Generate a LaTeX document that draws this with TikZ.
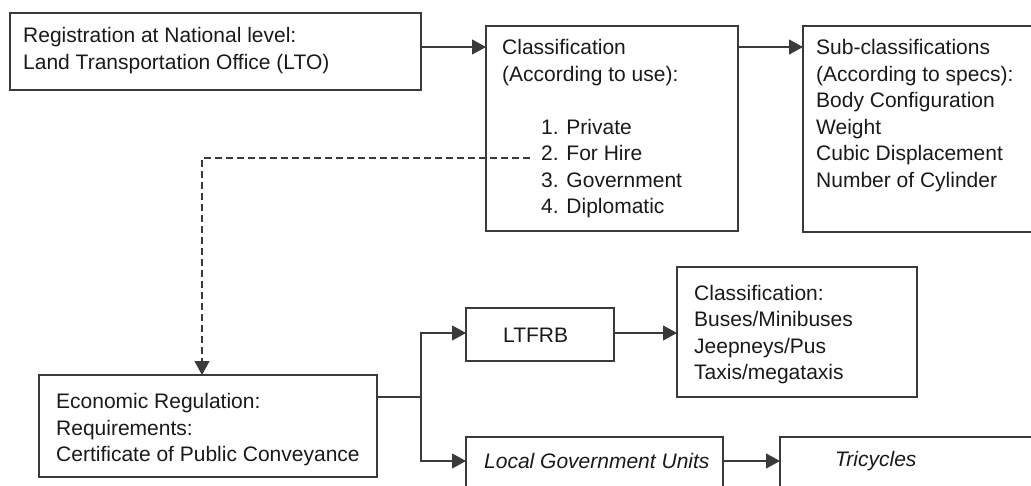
\documentclass[tikz,border=0pt]{standalone}
\usepackage{fontspec}
\setmainfont{Liberation Sans}
\usetikzlibrary{arrows.meta}
\definecolor{linecol}{HTML}{3A3A3A}
\definecolor{textcol}{HTML}{1A1A1A}
\begin{document}
\begin{tikzpicture}[x=1pt,y=-1pt,
  box/.style={draw=linecol, line width=1.1pt, rectangle, inner sep=0pt, outer sep=0pt},
  txt/.style={font=\fontsize{21}{26.5}\selectfont, align=left, inner sep=0pt, text=textcol},
  conn/.style={draw=linecol, line width=1.1pt},
  arr/.style={conn, -{Triangle[length=14pt,width=15pt]}},
  dasharr/.style={arr, dash pattern=on 7pt off 4pt}
]
\useasboundingbox (0,0) rectangle (1031,485);
\fill[white] (0,0) rectangle (1031,485);
\clip (0,0) rectangle (1031,485);

% boxes
\node[box, minimum width=411pt, minimum height=77pt] (reg) at (215.5,51.5) {};
\node[box, minimum width=252pt, minimum height=205pt] (cls) at (612,128.5) {};
\node[box, minimum width=242pt, minimum height=206pt] (sub) at (924,129) {};
\node[box, minimum width=338pt, minimum height=102pt] (econ) at (208,426) {};
\node[box, minimum width=148pt, minimum height=53pt] (ltfrb) at (540,334.5) {};
\node[box, minimum width=240pt, minimum height=130pt] (bus) at (797,332) {};
\node[box, minimum width=257pt, minimum height=63pt] (lgu) at (594.5,468.5) {};
\node[box, minimum width=265pt, minimum height=63pt] (tri) at (912.5,468.5) {};

% texts
\node[txt, anchor=west] (regt) at (23,50.5) {Registration at National level:\\Land Transportation Office (LTO)};
\node[txt, anchor=west] (clst) at (502,129) {Classification\\(According to use):\\[26.5pt]
  \hspace*{39pt}1. Private\\\hspace*{39pt}2. For Hire\\\hspace*{39pt}3. Government\\\hspace*{39pt}4. Diplomatic};
\node[txt, anchor=west] (subt) at (816,115.5) {Sub-classifications\\(According to specs):\\Body Configuration\\Weight\\Cubic Displacement\\Number of Cylinder};
\node[txt, anchor=west] (econt) at (56,430) {Economic Regulation:\\Requirements:\\Certificate of Public Conveyance};
\node[txt, anchor=west] (ltfrbt) at (503,335) {LTFRB};
\node[txt, anchor=west] (bust) at (694,334.5) {Classification:\\Buses/Minibuses\\Jeepneys/Pus\\Taxis/megataxis};
\node[txt, anchor=west] (lgut) at (484,461) {\itshape Local Government Units};
\node[txt, anchor=west] (trit) at (835,461) {\itshape Tricycles};

% helper coordinates
\coordinate (r1) at (0,47);
\coordinate (d0) at (530,158);
\coordinate (d1) at (202,158);
\coordinate (j0) at (421,397);
\coordinate (jt) at (421,333);
\coordinate (jb) at (421,461);

% connectors
\draw[arr] (reg.east |- r1) -- (cls.west |- r1);
\draw[arr] (cls.east |- r1) -- (sub.west |- r1);
\draw[dasharr] (d0) -- (d1) -- (econ.north -| d1);
\draw[conn] (econ.east |- j0) -- (j0);
\draw[arr] (j0) -- (jt) -- (ltfrb.west |- jt);
\draw[arr] (j0) -- (jb) -- (lgu.west |- jb);
\draw[arr] (ltfrb.east |- jt) -- (bus.west |- jt);
\draw[arr] (lgu.east |- jb) -- (tri.west |- jb);
\end{tikzpicture}
\end{document}
